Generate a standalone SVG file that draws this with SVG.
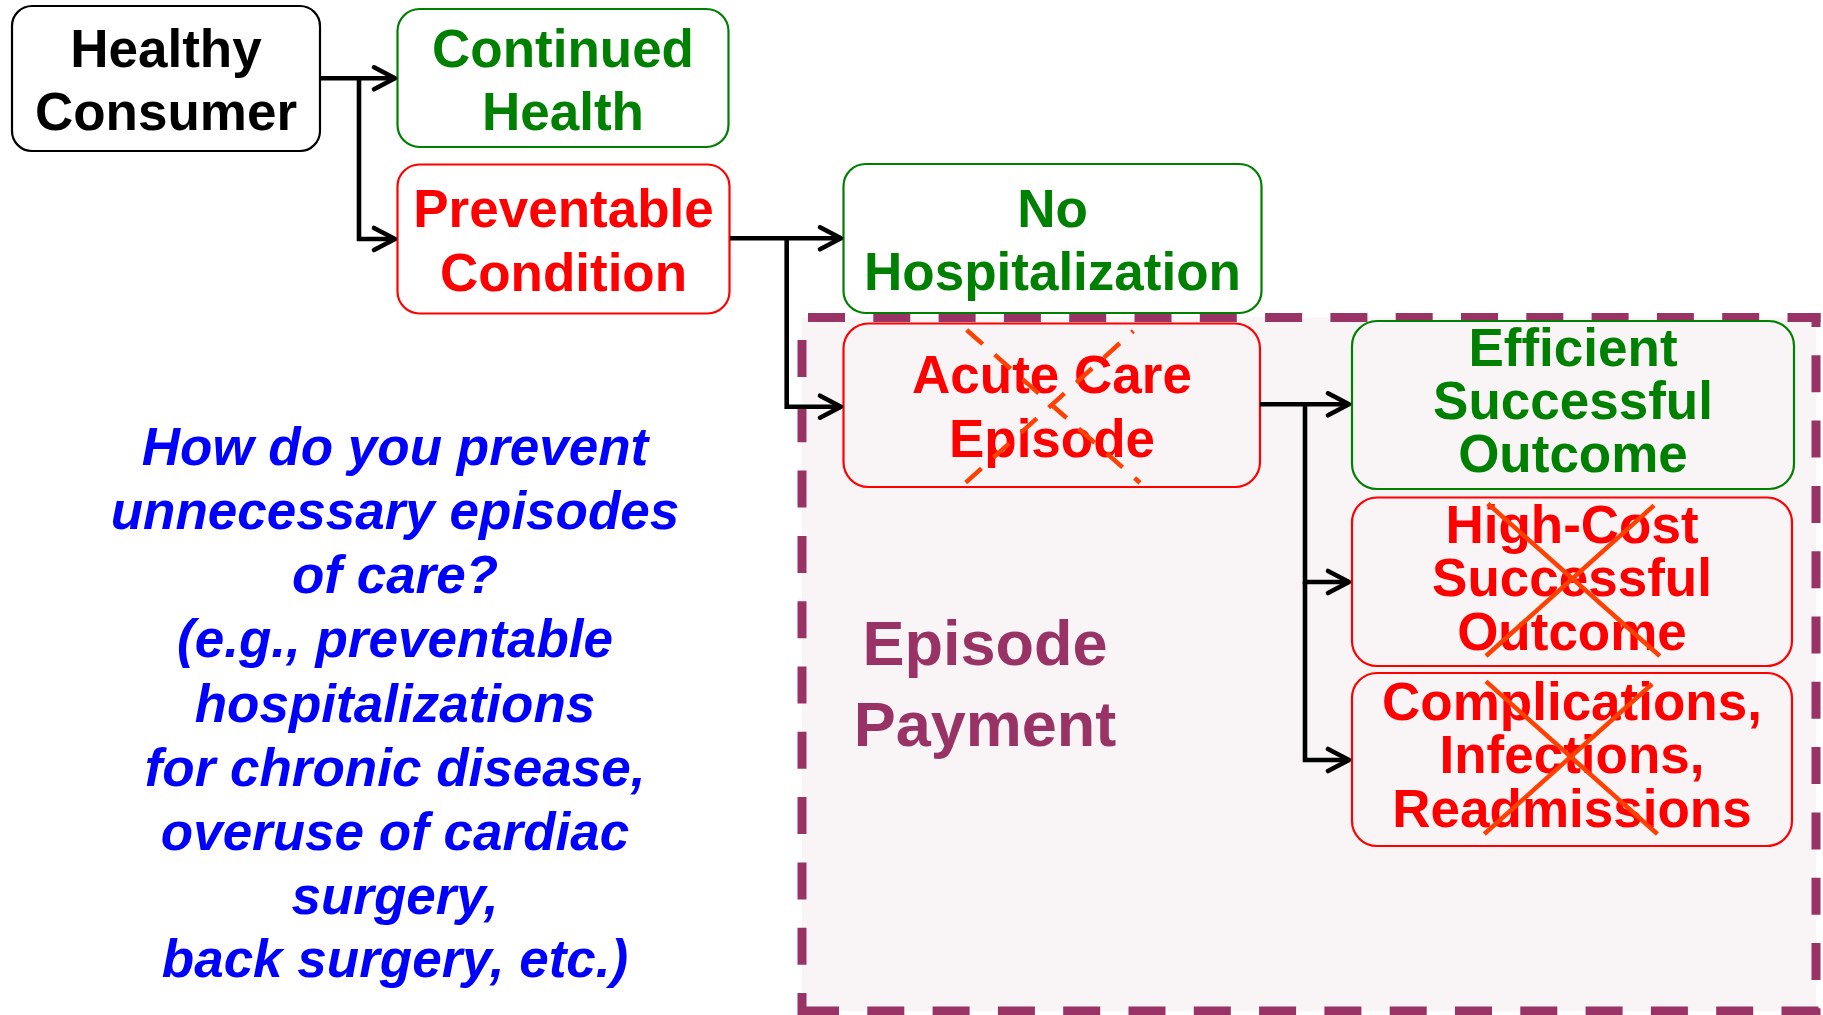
<svg xmlns="http://www.w3.org/2000/svg" width="1823" height="1015" viewBox="0 0 1823 1015">
  <style>
    .t { font-family: "Liberation Sans", Arial, Helvetica, sans-serif; font-weight: bold; font-size: 53px; text-anchor: middle; }
    .k { fill: #000000; }
    .g { fill: #008000; }
    .r { fill: #ff0000; }
    .box { stroke-width: 2.2; }
    .kb { stroke: #000000; fill: #ffffff; }
    .gb { stroke: #008000; fill: #ffffff; }
    .rb { stroke: #ff0000; fill: #ffffff; }
    .gbi { stroke: #008000; fill: none; }
    .rbi { stroke: #ff0000; fill: none; }
    .conn { fill: none; stroke: #000000; stroke-width: 4.6; marker-end: url(#arrow); }
    .frame { fill: none; stroke: #993366; stroke-width: 9; stroke-dasharray: 37 28.3; }
    .cross { stroke: #ff4000; stroke-width: 4.5; fill: none; }
    .crossdash { stroke-dasharray: 21.3 16; }
    .note { font-family: "Liberation Sans", Arial, Helvetica, sans-serif; font-weight: bold; font-style: italic; font-size: 53px; text-anchor: middle; fill: #0000ff; }
    .pay { font-family: "Liberation Sans", Arial, Helvetica, sans-serif; font-weight: bold; font-size: 63px; text-anchor: middle; fill: #993366; }
  </style>
  <defs>
    <marker id="arrow" markerUnits="userSpaceOnUse" viewBox="-26 -16 30 32" markerWidth="30" markerHeight="32" refX="0" refY="0" orient="auto">
      <path d="M-21,-11 L0,0 L-21,11" fill="none" stroke="#000000" stroke-width="4.6" stroke-linecap="round" stroke-linejoin="round"/>
    </marker>
  </defs>

  <rect width="1823" height="1015" fill="#ffffff"/>

  <!-- episode payment region -->
  <g id="episode-payment">
    <rect x="802" y="317.5" width="1014" height="693.5" fill="#f9f5f7"/>
    <line class="frame" x1="808" y1="317.5" x2="1820.5" y2="317.5"/>
    <line class="frame" x1="1816" y1="313" x2="1816" y2="1015" stroke-dashoffset="23"/>
    <line class="frame" x1="802" y1="1011" x2="1820.5" y2="1011"/>
    <line class="frame" x1="802" y1="317.5" x2="802" y2="1015" stroke-dashoffset="42.8"/>
    <text class="pay" x="985" y="665">Episode</text>
    <text class="pay" x="985" y="746">Payment</text>
  </g>

  <g id="healthy-consumer">
    <rect class="box kb" x="12" y="6" width="308" height="145" rx="20"/>
    <text class="t k" x="166" y="66.7">Healthy</text>
    <text class="t k" x="166" y="130">Consumer</text>
  </g>

  <g id="continued-health">
    <rect class="box gb" x="397.5" y="9" width="331" height="138" rx="22"/>
    <text class="t g" x="563" y="66.7">Continued</text>
    <text class="t g" x="563" y="130">Health</text>
  </g>

  <g id="preventable-condition">
    <rect class="box rb" x="397.5" y="164.5" width="332" height="149" rx="22"/>
    <text class="t r" x="563.5" y="227.3">Preventable</text>
    <text class="t r" x="563.5" y="290.7">Condition</text>
  </g>

  <g id="no-hospitalization">
    <rect class="box gb" x="843.5" y="164" width="418" height="149" rx="22"/>
    <text class="t g" x="1052.5" y="226.7">No</text>
    <text class="t g" x="1052.5" y="290">Hospitalization</text>
  </g>

  <g id="acute-care-episode">
    <rect class="box rbi" x="843.5" y="323.5" width="416.5" height="163.5" rx="25"/>
    <text class="t r" x="1052" y="393">Acute Care</text>
    <text class="t r" x="1052" y="457">Episode</text>
    <line class="cross crossdash" x1="966.7" y1="330" x2="1140" y2="482.7"/>
    <line class="cross crossdash" x1="965.7" y1="482.7" x2="1133.3" y2="331"/>
  </g>

  <g id="efficient-outcome">
    <rect class="box gbi" x="1352" y="321" width="442" height="168" rx="25"/>
    <text class="t g" x="1573" y="366">Efficient</text>
    <text class="t g" x="1573" y="418.8">Successful</text>
    <text class="t g" x="1573" y="472.3">Outcome</text>
  </g>

  <g id="high-cost-outcome">
    <rect class="box rbi" x="1352" y="497.5" width="440" height="168.5" rx="25"/>
    <text class="t r" x="1572" y="543">High-Cost</text>
    <text class="t r" x="1572" y="596.4">Successful</text>
    <text class="t r" x="1572" y="650">Outcome</text>
    <line class="cross" x1="1487.8" y1="503.6" x2="1659.8" y2="656"/>
    <line class="cross" x1="1654" y1="505.4" x2="1486" y2="656"/>
  </g>

  <g id="complications">
    <rect class="box rbi" x="1352" y="673" width="440" height="173" rx="25"/>
    <text class="t r" x="1572" y="719.6">Complications,</text>
    <text class="t r" x="1572" y="773">Infections,</text>
    <text class="t r" x="1572" y="826.8">Readmissions</text>
    <line class="cross" x1="1486" y1="681.4" x2="1657.4" y2="834"/>
    <line class="cross" x1="1652.2" y1="684" x2="1484.3" y2="834"/>
  </g>

  <g id="question">
    <text class="note" x="395" y="465">How do you prevent</text>
    <text class="note" x="395" y="529">unnecessary episodes</text>
    <text class="note" x="395" y="593">of care?</text>
    <text class="note" x="395" y="657">(e.g., preventable</text>
    <text class="note" x="395" y="721.5">hospitalizations</text>
    <text class="note" x="395" y="785.5">for chronic disease,</text>
    <text class="note" x="395" y="849.5">overuse of cardiac</text>
    <text class="note" x="395" y="913.5">surgery,</text>
    <text class="note" x="395" y="977.3">back surgery, etc.)</text>
  </g>

  <g id="connectors">
    <path class="conn" d="M320,78.3 H395"/>
    <path class="conn" d="M359,78.3 V239 H395"/>
    <path class="conn" d="M730,238.3 H841"/>
    <path class="conn" d="M786.7,238.3 V406.7 H841"/>
    <path class="conn" d="M1260,404.3 H1349"/>
    <path class="conn" d="M1305,404.3 V582 H1349"/>
    <path class="conn" d="M1305,582 V760 H1349"/>
  </g>
</svg>
